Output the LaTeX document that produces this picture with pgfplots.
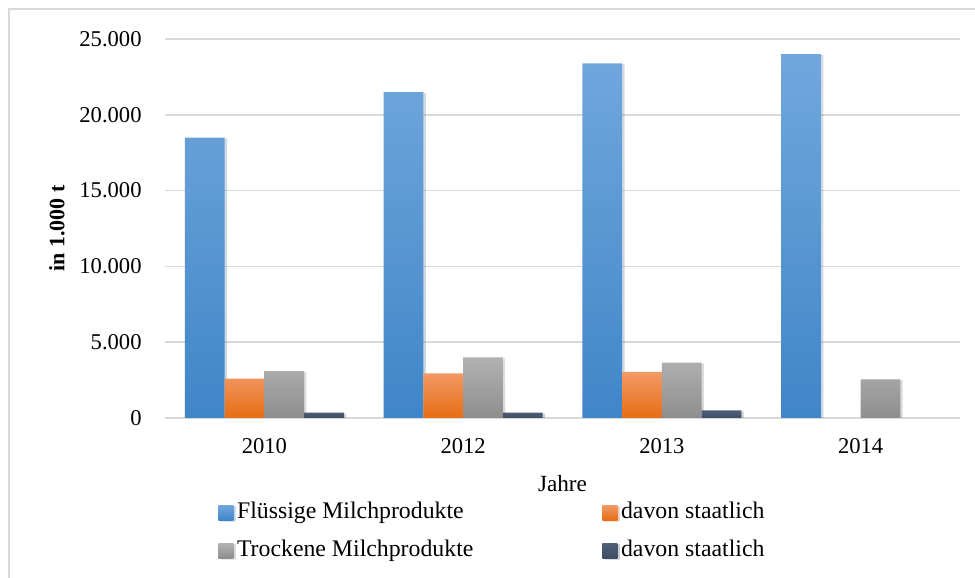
\documentclass[border=0pt]{standalone}
\usepackage{pgfplots}
\pgfplotsset{compat=1.18}
\usepackage{fontspec}
\setmainfont{Liberation Serif}
\usetikzlibrary{shadows}

\definecolor{blueTop}{HTML}{72A7DD}
\definecolor{blueBot}{HTML}{3F86C8}
\definecolor{orangeTop}{HTML}{F29A66}
\definecolor{orangeBot}{HTML}{E86C14}
\definecolor{grayTop}{HTML}{B2B2B2}
\definecolor{grayBot}{HTML}{8E8E8E}
\definecolor{navyTop}{HTML}{506079}
\definecolor{navyBot}{HTML}{3E4E66}
\definecolor{gridgray}{HTML}{D9D9D9}

% square legend marker with the bar's gradient
\pgfplotsset{
  sqleg/.style 2 args={
    legend image code/.code={
      \shade[top color=#1, bottom color=#2] (0pt,-3.75pt) rectangle (7.5pt,3.75pt);
    }
  },
  barshadow/.style={drop shadow={opacity=0.18, shadow xshift=1.2pt, shadow yshift=-0.5pt}},
}

\begin{document}
\begin{tikzpicture}
  % outer frame (top and left edges)
  \useasboundingbox (0pt,0pt) rectangle (487.5pt,289pt);
  \draw[gridgray, line width=1pt] (4pt,284.5pt) -- (487.5pt,284.5pt);
  \draw[gridgray, line width=1pt] (4.5pt,0pt) -- (4.5pt,285pt);

  \begin{axis}[
    at={(82.5pt,80pt)}, anchor=south west,
    scale only axis, width=397.5pt, height=189.5pt,
    ymin=0, ymax=25000,
    xmin=-0.5, xmax=3.5,
    xtick={0,1,2,3},
    xticklabels={2010,2012,2013,2014},
    ytick={0,5000,10000,15000,20000,25000},
    /pgf/number format/1000 sep={.},
    scaled y ticks=false,
    /pgf/number format/assume math mode=true,
    major tick length=0pt,
    ymajorgrids, grid style={gridgray, line width=0.75pt},
    axis x line*=bottom, axis y line*=left,
    x axis line style={draw=gridgray, line width=1pt, -},
    y axis line style={draw=none},
    tick label style={font=\fontsize{11.3}{13}\selectfont},
    yticklabel style={anchor=east, inner sep=0pt, xshift=-11.5pt},
    xticklabel style={anchor=north, inner sep=0pt, yshift=-10pt},
    xlabel={Jahre},
    xlabel style={at={(axis description cs:0.5,0)}, anchor=north, inner sep=0pt, yshift=-28.5pt,
      font=\fontsize{11.6}{13}\selectfont},
    ylabel={in 1.000 t},
    ylabel style={at={(axis description cs:-0.136,0.5)}, anchor=center, inner sep=0pt,
      font=\fontsize{11}{13}\selectfont\bfseries},
    bar width=19.85pt,
    legend columns=2,
    legend cell align=left,
    legend style={
      at={(axis description cs:0.0667,-0.220)}, anchor=north west,
      draw=none, fill=none, inner sep=0pt,
      font=\fontsize{11.9}{13}\selectfont,
      nodes={inner sep=0pt, text height=8.2pt, text depth=2.6pt},
      row sep=8.2pt,
      /tikz/column 1/.style={column sep=1.8pt},
      /tikz/column 2/.style={column sep=64.5pt},
      /tikz/column 3/.style={column sep=1.8pt},
    },
  ]
    % Flüssige Milchprodukte
    \addplot[ybar, bar shift=-0.3*19.85pt*5, draw=none, top color=blueTop, bottom color=blueBot,
      barshadow, sqleg={blueTop}{blueBot}]
      coordinates {(0,18500) (1,21500) (2,23400) (3,24000)};
    \addlegendentry{Flüssige Milchprodukte}
    % davon staatlich
    \addplot[ybar, bar shift=-0.1*19.85pt*5, draw=none, top color=orangeTop, bottom color=orangeBot,
      barshadow, sqleg={orangeTop}{orangeBot}]
      coordinates {(0,2600) (1,2950) (2,3050)};
    \addlegendentry{davon staatlich}
    % Trockene Milchprodukte
    \addplot[ybar, bar shift=0.1*19.85pt*5, draw=none, top color=grayTop, bottom color=grayBot,
      barshadow, sqleg={grayTop}{grayBot}]
      coordinates {(0,3100) (1,4000) (2,3650) (3,2550)};
    \addlegendentry{Trockene Milchprodukte}
    % davon staatlich
    \addplot[ybar, bar shift=0.3*19.85pt*5, draw=none, top color=navyTop, bottom color=navyBot,
      barshadow, sqleg={navyTop}{navyBot}]
      coordinates {(0,350) (1,350) (2,500)};
    \addlegendentry{davon staatlich}
  \end{axis}
\end{tikzpicture}
\end{document}
